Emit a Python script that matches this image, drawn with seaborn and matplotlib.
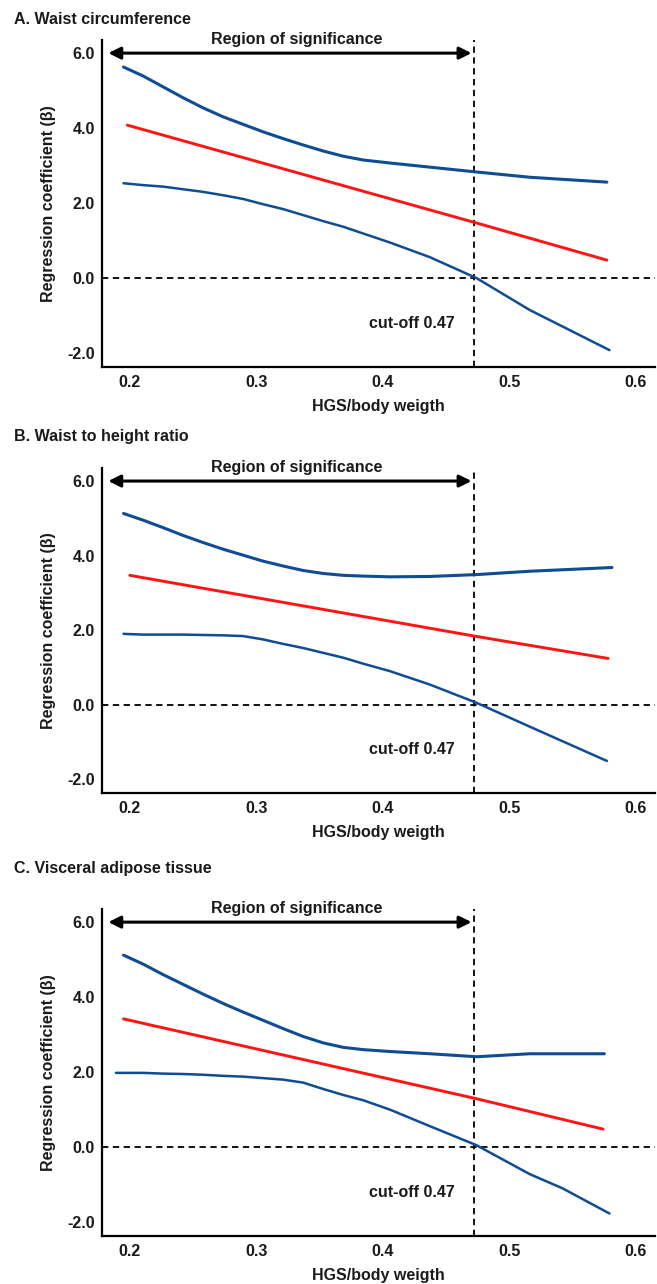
import numpy as np
import pandas as pd
import matplotlib.pyplot as plt
import seaborn as sns

# ---------------------------------------------
# Values
# ---------------------------------------------

titles = [
    "A. Waist circumference",
    "B. Waist to height ratio",
    "C. Visceral adipose tissue",
]

x_ticks = [0.2, 0.3, 0.4, 0.5, 0.6]
y_ticks = [-2.0, 0.0, 2.0, 4.0, 6.0]
cut_off = 0.472

# x positions at which the confidence bands were read (shared by all panels)
band_x = [0.195, 0.2105, 0.2263, 0.2421, 0.2579, 0.2738, 0.2896,
          0.3054, 0.3212, 0.337, 0.3528, 0.3687, 0.3844, 0.4055]

# panel A
a_upper_x = band_x + [0.437, 0.474, 0.516, 0.577]
a_upper_y = [5.63, 5.39, 5.10, 4.81, 4.54, 4.30, 4.10, 3.90, 3.72, 3.55,
             3.39, 3.25, 3.15, 3.07, 2.96, 2.83, 2.69, 2.56]
a_beta_x = [0.198, 0.474, 0.577]
a_beta_y = [4.08, 1.47, 0.48]
a_lower_x = band_x + [0.437, 0.474, 0.516, 0.579]
a_lower_y = [2.53, 2.48, 2.44, 2.37, 2.30, 2.21, 2.11, 1.97, 1.84, 1.68,
             1.52, 1.37, 1.19, 0.95, 0.56, 0.00, -0.85, -1.92]

# panel B
b_upper_x = band_x + [0.437, 0.474, 0.516, 0.581]
b_upper_y = [5.13, 4.95, 4.75, 4.54, 4.35, 4.17, 4.01, 3.85, 3.72, 3.60,
             3.52, 3.47, 3.45, 3.43, 3.44, 3.49, 3.58, 3.68]
b_beta_x = [0.200, 0.474, 0.578]
b_beta_y = [3.47, 1.83, 1.24]
b_lower_x = band_x + [0.437, 0.474, 0.516, 0.577]
b_lower_y = [1.90, 1.88, 1.88, 1.88, 1.87, 1.86, 1.84, 1.75, 1.63, 1.52,
             1.39, 1.26, 1.10, 0.90, 0.54, 0.05, -0.59, -1.51]

# panel C
c_upper_x = band_x + [0.437, 0.474, 0.516, 0.575]
c_upper_y = [5.12, 4.88, 4.60, 4.34, 4.08, 3.83, 3.60, 3.38, 3.16, 2.95,
             2.78, 2.66, 2.60, 2.55, 2.49, 2.41, 2.49, 2.49]
c_beta_x = [0.195, 0.474, 0.574]
c_beta_y = [3.42, 1.29, 0.48]
c_lower_x = [0.189] + band_x[1:] + [0.437, 0.474, 0.516, 0.542, 0.579]
c_lower_y = [1.98, 1.98, 1.96, 1.95, 1.93, 1.90, 1.88, 1.84, 1.80, 1.72,
             1.55, 1.39, 1.25, 1.00, 0.56, 0.05, -0.72, -1.10, -1.77]

panels = [
    (a_upper_x, a_upper_y, a_beta_x, a_beta_y, a_lower_x, a_lower_y),
    (b_upper_x, b_upper_y, b_beta_x, b_beta_y, b_lower_x, b_lower_y),
    (c_upper_x, c_upper_y, c_beta_x, c_beta_y, c_lower_x, c_lower_y),
]

# ---------------------------------------------
# Style
# ---------------------------------------------

sns.set_style("ticks")
plt.rcParams["font.family"] = ["Liberation Sans", "DejaVu Sans"]
plt.rcParams["font.weight"] = "bold"
plt.rcParams["lines.solid_joinstyle"] = "round"

blue = "#0f4c94"
red = "#ff1414"
ink = "#1a1a1a"
fs = 11.5

W, H = 657, 1284
fig = plt.figure(figsize=(W / 100, H / 100), dpi=100)
fig.patch.set_facecolor("white")

# axes boxes in pixels: (top, bottom)
boxes = [(40, 367), (468, 793), (909, 1236)]
title_y = [19, 437, 868]
left_px, right_px = 102, 655

for i, (ux, uy, bx, by, lx, ly) in enumerate(panels):
    top, bottom = boxes[i]
    ax = fig.add_axes([
        left_px / W,
        1 - bottom / H,
        (right_px - left_px) / W,
        (bottom - top) / H,
    ])
    ax.set_facecolor("white")

    sns.lineplot(x=ux, y=uy, color=blue, lw=2.2, sort=False, ax=ax)
    sns.lineplot(x=bx, y=by, color=red, lw=2.1, sort=False, ax=ax)
    sns.lineplot(x=lx, y=ly, color=blue, lw=1.8, sort=False, ax=ax)

    ax.axhline(0, color="black", lw=1.3, ls=(0, (3.5, 2.5)), zorder=1)
    ax.axvline(cut_off, color="black", lw=1.3, ls=(0, (3.5, 2.5)), zorder=1)

    ax.annotate(
        "", xy=(0.183, 6.0), xytext=(0.470, 6.0),
        arrowprops=dict(arrowstyle="<|-|>", color="black", lw=2.2,
                        mutation_scale=18, shrinkA=0, shrinkB=0),
        annotation_clip=False,
    )
    ax.text(0.332, 6.36, "Region of significance", ha="center", va="center",
            fontsize=fs, fontweight="bold", color=ink)
    ax.text(0.457, -1.2, "cut-off 0.47", ha="right", va="center",
            fontsize=fs, fontweight="bold", color=ink)

    ax.set_xlim(0.178, 0.615)
    ax.set_ylim(-2.37, 6.35)
    ax.set_xticks(x_ticks)
    ax.set_xticklabels([f"{t:.1f}" for t in x_ticks])
    ax.set_yticks(y_ticks)
    ax.set_yticklabels([f"{t:.1f}" for t in y_ticks])
    ax.tick_params(axis="both", length=0, labelsize=fs, colors=ink)
    ax.tick_params(axis="x", pad=6)
    ax.tick_params(axis="y", pad=5)

    ax.set_xlabel("HGS/body weigth", fontsize=fs, fontweight="bold",
                  color=ink, labelpad=6)
    ax.set_ylabel("Regression coefficient (β)", fontsize=fs,
                  fontweight="bold", color=ink, labelpad=8)

    sns.despine(ax=ax)
    for side in ("left", "bottom"):
        ax.spines[side].set_linewidth(1.6)
        ax.spines[side].set_color("black")

    fig.text(14 / W, 1 - title_y[i] / H, titles[i], ha="left", va="center",
             fontsize=fs, fontweight="bold", color=ink)

fig.savefig("out.png", dpi=100, facecolor="white")
plt.close(fig)
